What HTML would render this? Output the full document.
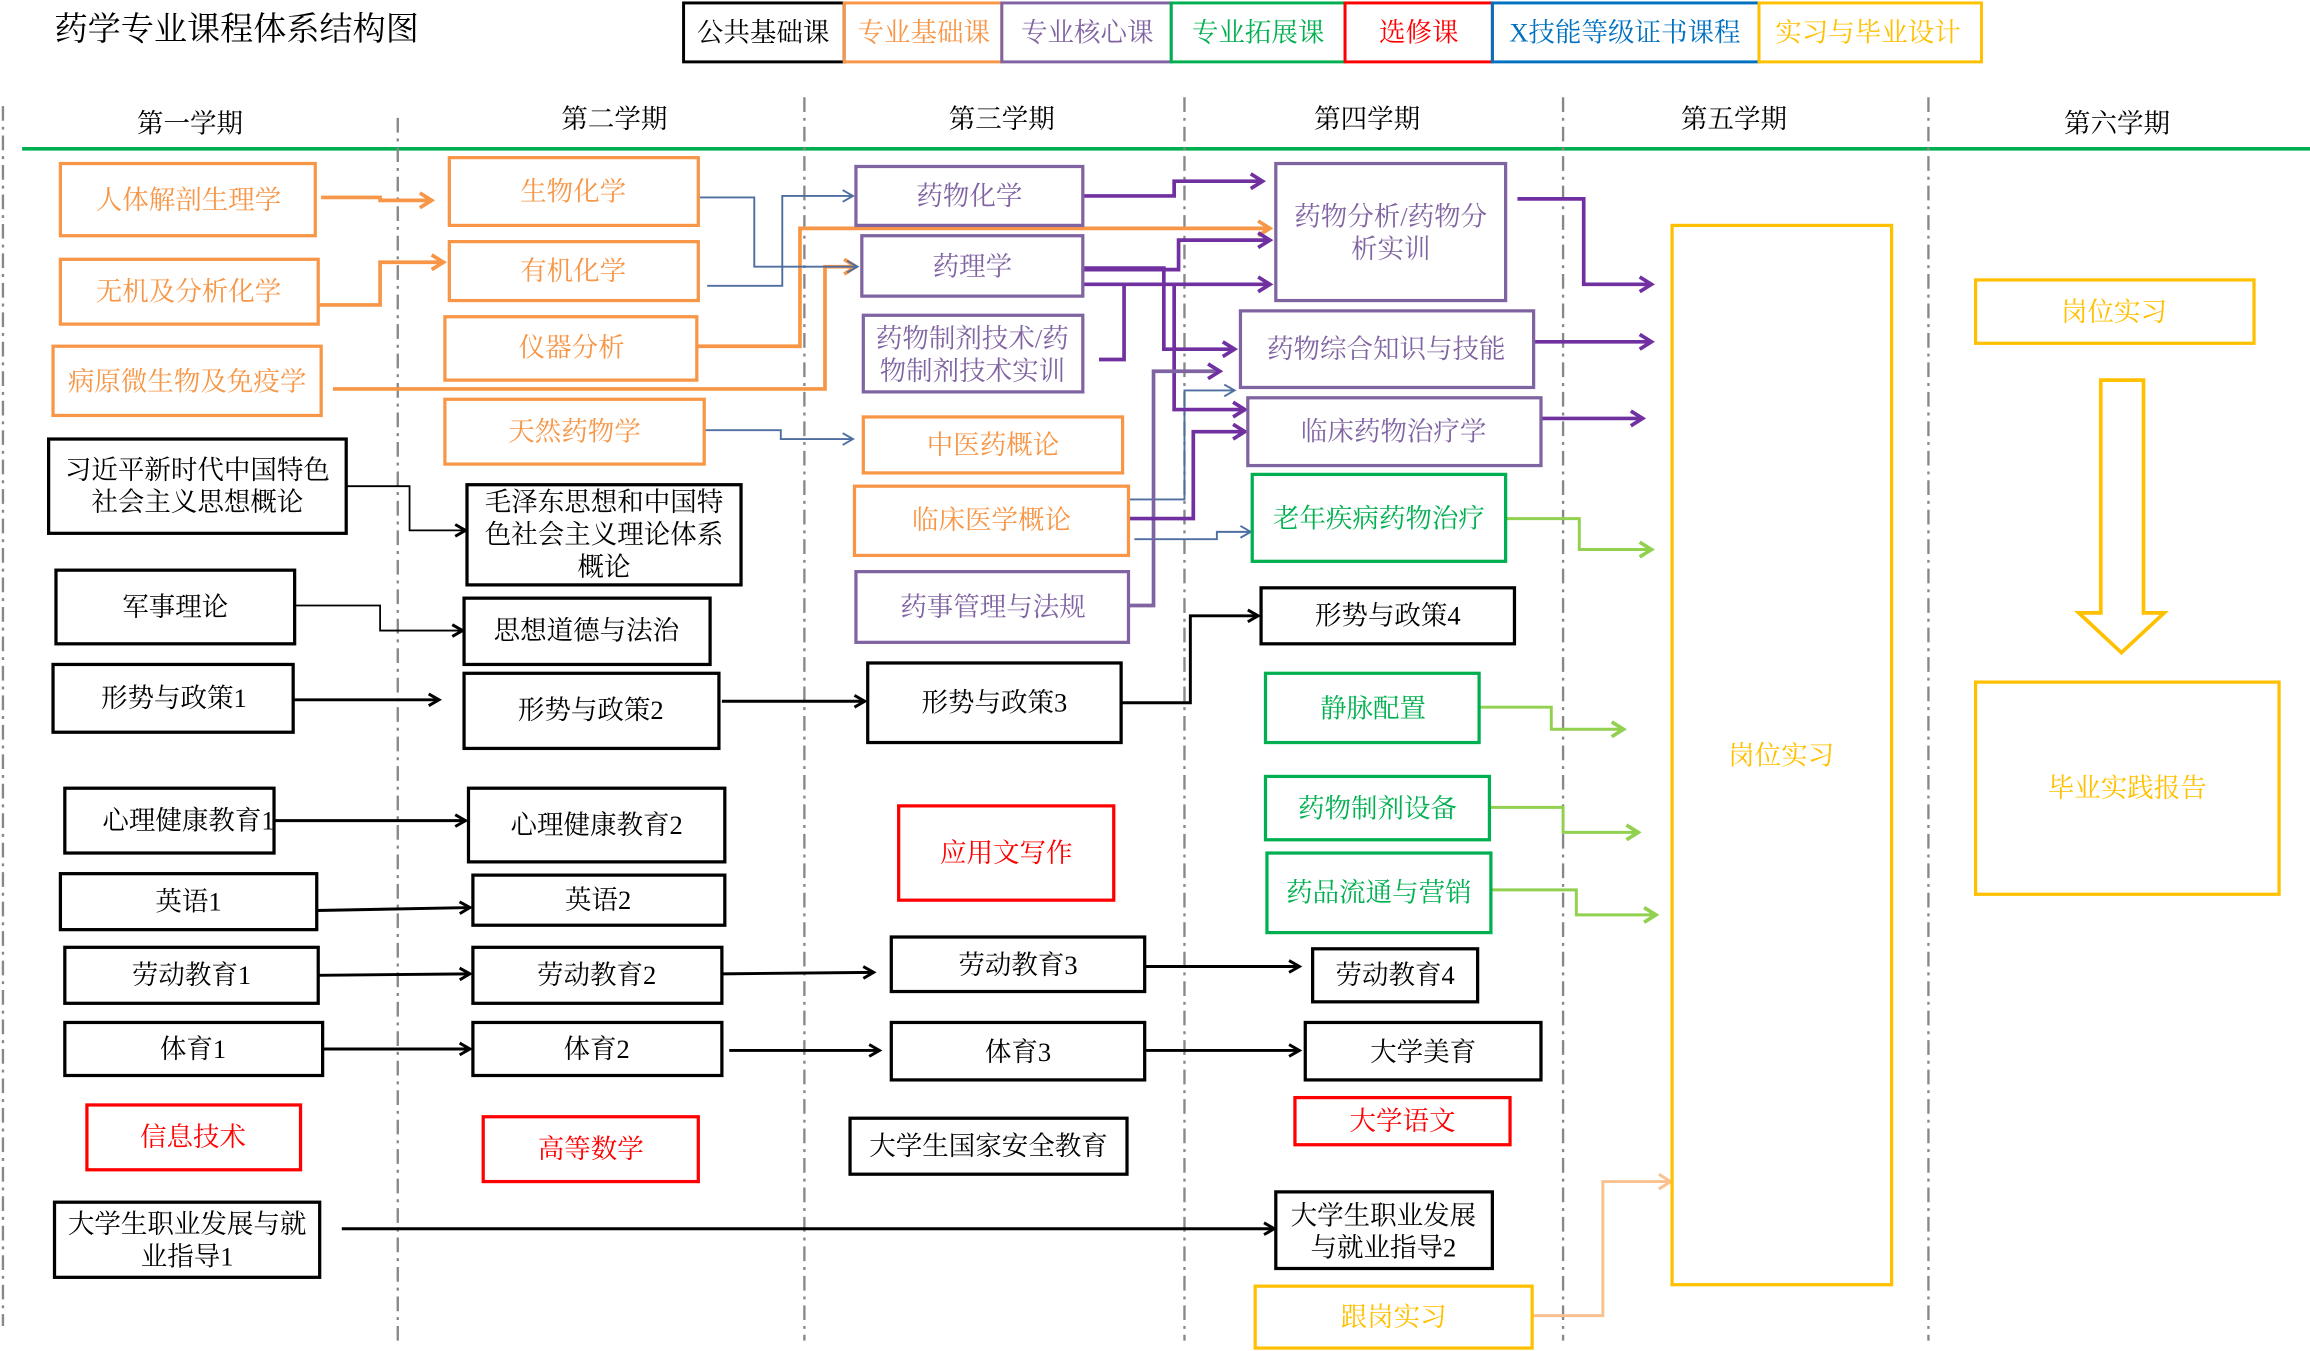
<!DOCTYPE html>
<html><head><meta charset="utf-8"><style>
html,body{margin:0;padding:0;background:#fff;}
svg{display:block;}
text{font-family:"Liberation Serif","Noto Serif CJK SC",serif;font-size:18px;}
</style></head><body>
<svg width="2310" height="1351" viewBox="0 0 1568 917" preserveAspectRatio="none" xmlns="http://www.w3.org/2000/svg">
<defs>
<marker id="ab" markerWidth="10" markerHeight="10" refX="8" refY="5" orient="auto" markerUnits="userSpaceOnUse"><path d="M1,1 L8,5 L1,9" fill="none" stroke="#000" stroke-width="2"/></marker>
<marker id="ao" markerWidth="12" markerHeight="12" refX="9" refY="6" orient="auto" markerUnits="userSpaceOnUse"><path d="M1,1 L9,6 L1,11" fill="none" stroke="#F79646" stroke-width="2.5"/></marker>
<marker id="ap" markerWidth="12" markerHeight="12" refX="9" refY="6" orient="auto" markerUnits="userSpaceOnUse"><path d="M1,1 L9,6 L1,11" fill="none" stroke="#7030A0" stroke-width="2.5"/></marker>
<marker id="au" markerWidth="10" markerHeight="10" refX="8" refY="5" orient="auto" markerUnits="userSpaceOnUse"><path d="M1,1 L8,5 L1,9" fill="none" stroke="#4F6FA0" stroke-width="1.3"/></marker>
<marker id="ag" markerWidth="12" markerHeight="12" refX="9" refY="6" orient="auto" markerUnits="userSpaceOnUse"><path d="M1,1 L9,6 L1,11" fill="none" stroke="#92D050" stroke-width="2.5"/></marker>
<marker id="ak" markerWidth="12" markerHeight="12" refX="9" refY="6" orient="auto" markerUnits="userSpaceOnUse"><path d="M1,1 L9,6 L1,11" fill="none" stroke="#FAC090" stroke-width="2"/></marker>
</defs>

<text x="37" y="27" style="font-size:22.5px">药学专业课程体系结构图</text>

<!-- legend -->
<g stroke-width="2" fill="none">
<rect x="464" y="2" width="109" height="40" stroke="#000"/>
<rect x="573" y="2" width="107" height="40" stroke="#F79646"/>
<rect x="680" y="2" width="115" height="40" stroke="#8064A2"/>
<rect x="795" y="2" width="118" height="40" stroke="#00B050"/>
<rect x="913" y="2" width="100" height="40" stroke="#FF0000"/>
<rect x="1013" y="2" width="181" height="40" stroke="#0070C0"/>
<rect x="1194" y="2" width="151" height="40" stroke="#FFC000"/>
</g>
<g text-anchor="middle">
<text x="518" y="28">公共基础课</text>
<text x="627" y="28" fill="#F79646">专业基础课</text>
<text x="738" y="28" fill="#8064A2">专业核心课</text>
<text x="854" y="28" fill="#00B050">专业拓展课</text>
<text x="963" y="28" fill="#FF0000">选修课</text>
<text x="1103" y="28" fill="#0070C0">X技能等级证书课程</text>
<text x="1268" y="28" fill="#FFC000">实习与毕业设计</text>
</g>

<!-- semester headers -->
<g text-anchor="middle">
<text x="129" y="90">第一学期</text>
<text x="417" y="87">第二学期</text>
<text x="680" y="87">第三学期</text>
<text x="928" y="87">第四学期</text>
<text x="1177" y="87">第五学期</text>
<text x="1437" y="90">第六学期</text>
</g>
<line x1="15" y1="101" x2="1568" y2="101" stroke="#00B050" stroke-width="2.5"/>
<g stroke="#888" stroke-width="1.6" stroke-dasharray="10,4,2,4">
<line x1="2" y1="72" x2="2" y2="900"/>
<line x1="270" y1="80" x2="270" y2="910"/>
<line x1="546" y1="66" x2="546" y2="910"/>
<line x1="804" y1="66" x2="804" y2="910"/>
<line x1="1061" y1="66" x2="1061" y2="910"/>
<line x1="1309" y1="66" x2="1309" y2="910"/>
</g>

<!-- connectors -->
<g fill="none">
<g stroke="#F79646" stroke-width="2.5">
<polyline points="218,134 258,134 258,136 293,136" marker-end="url(#ao)"/>
<polyline points="216,207 258,207 258,178 301,178" marker-end="url(#ao)"/>
<polyline points="226,264 560,264 560,181 581,181" marker-end="url(#ao)"/>
<polyline points="473,235 543,235 543,155 862,155" marker-end="url(#ao)"/>
</g>
<g stroke="#4F6FA0" stroke-width="1.3">
<polyline points="474,134 512,134 512,181 582,181" marker-end="url(#au)"/>
<polyline points="480,194 531,194 531,133 579,133" marker-end="url(#au)"/>
<polyline points="478,292 530,292 530,298 579,298" marker-end="url(#au)"/>
<polyline points="766,339 804,339 804,265 838,265" marker-end="url(#au)"/>
<polyline points="770,366 826,366 826,361 849,361" marker-end="url(#au)"/>
</g>
<g stroke="#7030A0" stroke-width="2.5">
<polyline points="735,133 797,133 797,123 857,123" marker-end="url(#ap)"/>
<polyline points="735,183 800,183 800,163 862,163" marker-end="url(#ap)"/>
<polyline points="735,193 862,193" marker-end="url(#ap)"/>
<polyline points="735,182 790,182 790,237 838,237" marker-end="url(#ap)"/>
<polyline points="797,193 797,278 845,278" marker-end="url(#ap)"/>
<polyline points="746,244 763,244 763,193"/>
<polyline points="766,411 783,411 783,252 828,252" stroke="#8064A2" marker-end="url(#ap)"/>
<polyline points="766,352 810,352 810,293 845,293" marker-end="url(#ap)"/>
<polyline points="1030,135 1075,135 1075,193 1121,193" marker-end="url(#ap)"/>
<polyline points="1041,232 1121,232" marker-end="url(#ap)"/>
<polyline points="1046,284 1115,284" marker-end="url(#ap)"/>
</g>
<g stroke="#92D050" stroke-width="2">
<polyline points="1022,352 1072,352 1072,373 1121,373" marker-end="url(#ag)"/>
<polyline points="1004,480 1053,480 1053,495 1102,495" marker-end="url(#ag)"/>
<polyline points="1011,548 1061,548 1061,565 1112,565" marker-end="url(#ag)"/>
<polyline points="1012,604 1070,604 1070,621 1124,621" marker-end="url(#ag)"/>
</g>
<polyline points="1040,893 1088,893 1088,802 1134,802" stroke="#FAC090" stroke-width="2" marker-end="url(#ak)"/>
<g stroke="#000" stroke-width="2">
<polyline points="199,475 298,475" marker-end="url(#ab)"/>
<polyline points="490,476 587,476" marker-end="url(#ab)"/>
<polyline points="761,477 808,477 808,418 854,418" marker-end="url(#ab)"/>
<polyline points="186,557 316,557" marker-end="url(#ab)"/>
<polyline points="215,618 319,616" marker-end="url(#ab)"/>
<polyline points="216,662 319,661" marker-end="url(#ab)"/>
<polyline points="490,661 593,660" marker-end="url(#ab)"/>
<polyline points="777,656 882,656" marker-end="url(#ab)"/>
<polyline points="219,712 319,712" marker-end="url(#ab)"/>
<polyline points="495,713 597,713" marker-end="url(#ab)"/>
<polyline points="777,713 882,713" marker-end="url(#ab)"/>
<polyline points="232,834 865,834" marker-end="url(#ab)"/>
<polyline points="235,330 278,330 278,360 316,360" stroke-width="1.2" marker-end="url(#ab)"/>
<polyline points="200,411 258,411 258,428 314,428" stroke-width="1.2" marker-end="url(#ab)"/>
</g>
</g>

<!-- boxes -->
<g fill="#fff" stroke-width="2.2">
<g stroke="#F79646">
<rect x="41" y="111" width="173" height="49"/>
<rect x="41" y="176" width="175" height="44"/>
<rect x="36" y="235" width="182" height="47"/>
<rect x="305" y="107" width="169" height="46"/>
<rect x="305" y="164" width="169" height="40"/>
<rect x="302" y="215" width="171" height="43"/>
<rect x="302" y="271" width="176" height="44"/>
<rect x="586" y="283" width="176" height="38"/>
<rect x="580" y="330" width="186" height="47"/>
</g>
<g stroke="#8064A2">
<rect x="581" y="113" width="154" height="40"/>
<rect x="585" y="160" width="150" height="41"/>
<rect x="586" y="214" width="149" height="52"/>
<rect x="581" y="388" width="185" height="48"/>
<rect x="866" y="111" width="156" height="93"/>
<rect x="842" y="211" width="199" height="52"/>
<rect x="847" y="270" width="199" height="46"/>
</g>
<g stroke="#00B050">
<rect x="850" y="322" width="172" height="59"/>
<rect x="859" y="457" width="145" height="47"/>
<rect x="859" y="527" width="152" height="43"/>
<rect x="860" y="579" width="152" height="54"/>
</g>
<g stroke="#FF0000">
<rect x="59" y="750" width="145" height="44"/>
<rect x="328" y="758" width="146" height="44"/>
<rect x="610" y="547" width="146" height="64"/>
<rect x="879" y="745" width="146" height="32"/>
</g>
<g stroke="#000">
<rect x="33" y="298" width="202" height="64"/>
<rect x="38" y="387" width="162" height="50"/>
<rect x="36" y="451" width="163" height="46"/>
<rect x="44" y="535" width="142" height="44"/>
<rect x="41" y="593" width="174" height="38"/>
<rect x="44" y="643" width="172" height="38"/>
<rect x="44" y="694" width="175" height="36"/>
<rect x="37" y="816" width="180" height="51"/>
<rect x="317" y="329" width="186" height="68"/>
<rect x="315" y="406" width="167" height="45"/>
<rect x="315" y="457" width="173" height="51"/>
<rect x="318" y="535" width="174" height="50"/>
<rect x="321" y="594" width="171" height="34"/>
<rect x="321" y="643" width="169" height="38"/>
<rect x="321" y="694" width="169" height="36"/>
<rect x="589" y="450" width="172" height="54"/>
<rect x="605" y="636" width="172" height="37"/>
<rect x="605" y="694" width="172" height="39"/>
<rect x="577" y="759" width="188" height="38"/>
<rect x="856" y="399" width="172" height="38"/>
<rect x="891" y="644" width="112" height="36"/>
<rect x="886" y="694" width="160" height="39"/>
<rect x="866" y="809" width="147" height="52"/>
</g>
<g stroke="#FFC000">
<rect x="852" y="873" width="188" height="42"/>
<rect x="1135" y="153" width="149" height="719"/>
<rect x="1341" y="190" width="189" height="43"/>
<rect x="1341" y="463" width="206" height="144"/>
</g>
</g>
<path d="M1426,258 L1455,258 L1455,416 L1469,416 L1440,443 L1411,416 L1426,416 Z" fill="none" stroke="#FFC000" stroke-width="2.5"/>

<!-- labels -->
<g text-anchor="middle">
<g fill="#F79646">
<text x="128" y="142">人体解剖生理学</text>
<text x="128" y="204">无机及分析化学</text>
<text x="127" y="265">病原微生物及免疫学</text>
<text x="389" y="136">生物化学</text>
<text x="389" y="190">有机化学</text>
<text x="388" y="242">仪器分析</text>
<text x="390" y="299">天然药物学</text>
<text x="674" y="308">中医药概论</text>
<text x="673" y="359">临床医学概论</text>
</g>
<g fill="#8064A2">
<text x="658" y="139">药物化学</text>
<text x="660" y="187">药理学</text>
<text x="660" y="236">药物制剂技术/药</text>
<text x="660" y="258">物制剂技术实训</text>
<text x="674" y="418">药事管理与法规</text>
<text x="944" y="153">药物分析/药物分</text>
<text x="944" y="175">析实训</text>
<text x="941" y="243">药物综合知识与技能</text>
<text x="946" y="299">临床药物治疗学</text>
</g>
<g fill="#00B050">
<text x="936" y="358">老年疾病药物治疗</text>
<text x="932" y="487">静脉配置</text>
<text x="935" y="555">药物制剂设备</text>
<text x="936" y="612">药品流通与营销</text>
</g>
<g fill="#FF0000">
<text x="131" y="778">信息技术</text>
<text x="401" y="786">高等数学</text>
<text x="683" y="585">应用文写作</text>
<text x="952" y="767">大学语文</text>
</g>
<g fill="#000">
<text x="134" y="325">习近平新时代中国特色</text>
<text x="134" y="347">社会主义思想概论</text>
<text x="119" y="418">军事理论</text>
<text x="118" y="480">形势与政策1</text>
<text x="128" y="563">心理健康教育1</text>
<text x="128" y="618">英语1</text>
<text x="130" y="668">劳动教育1</text>
<text x="131" y="718">体育1</text>
<text x="127" y="837">大学生职业发展与就</text>
<text x="127" y="859">业指导1</text>
<text x="410" y="347">毛泽东思想和中国特</text>
<text x="410" y="369">色社会主义理论体系</text>
<text x="410" y="391">概论</text>
<text x="398" y="434">思想道德与法治</text>
<text x="401" y="488">形势与政策2</text>
<text x="405" y="566">心理健康教育2</text>
<text x="406" y="617">英语2</text>
<text x="405" y="668">劳动教育2</text>
<text x="405" y="718">体育2</text>
<text x="675" y="483">形势与政策3</text>
<text x="691" y="661">劳动教育3</text>
<text x="691" y="720">体育3</text>
<text x="671" y="784">大学生国家安全教育</text>
<text x="942" y="424">形势与政策4</text>
<text x="947" y="668">劳动教育4</text>
<text x="966" y="720">大学美育</text>
<text x="939" y="831">大学生职业发展</text>
<text x="939" y="853">与就业指导2</text>
</g>
<g fill="#FFC000">
<text x="946" y="900">跟岗实习</text>
<text x="1209" y="519">岗位实习</text>
<text x="1435" y="218">岗位实习</text>
<text x="1444" y="541">毕业实践报告</text>
</g>
</g>
</svg>
</body></html>
